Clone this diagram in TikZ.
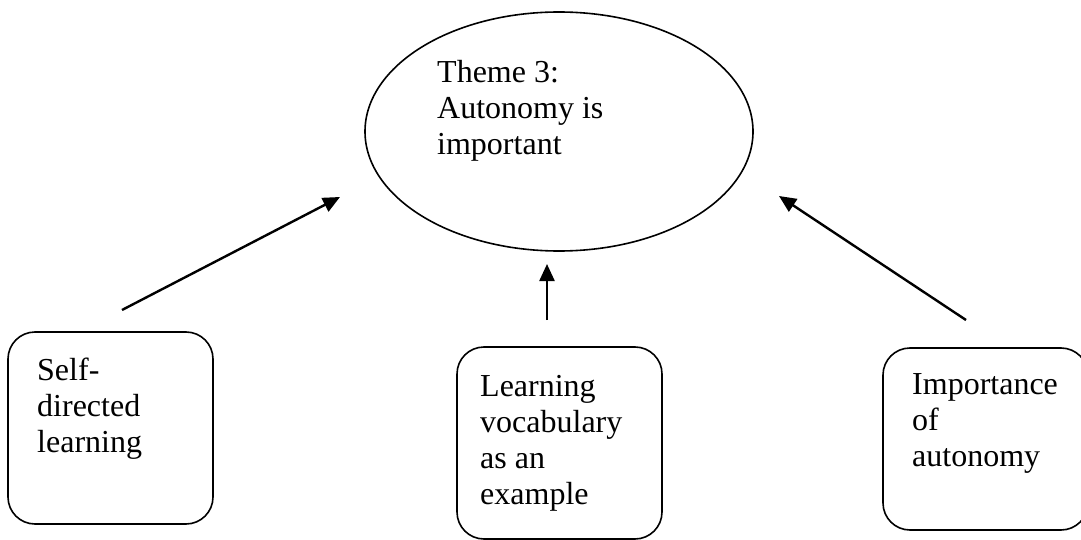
\documentclass[tikz,border=0pt]{standalone}
\usepackage{fontspec}
\setmainfont{Liberation Serif}
\usetikzlibrary{arrows.meta,shapes.geometric}
\begin{document}
\begin{tikzpicture}[x=1pt,y=-1pt,
  bubble/.style={draw,ellipse,line width=1.6pt,minimum width=388pt,minimum height=239pt,inner sep=0pt},
  card/.style={draw,rounded corners=27pt,line width=1.6pt,minimum width=205pt,inner sep=0pt},
  caption/.style={anchor=north west,align=left,inner sep=0pt,font=\fontsize{32}{36}\selectfont},
  link/.style={line width=2.4pt,-{Triangle[length=17pt,width=15pt]}}]
\useasboundingbox (0,0) rectangle (1081,540);

% central theme
\node[bubble] (theme) at (559,131.5) {};
\node[caption] (themetxt) at (437,60) {Theme 3:\\Autonomy is\\important};

% sub-theme cards
\node[card,minimum height=192pt] (self) at (110.5,428) {};
\node[caption] (selftxt) at (37,358) {Self-\\directed\\learning};

\node[card,minimum height=192pt] (vocab) at (559.5,443) {};
\node[caption] (vocabtxt) at (480,375) {Learning\\vocabulary\\as an\\example};

\node[card,minimum height=182pt] (auto) at (985.5,439) {};
\node[caption] (autotxt) at (912,373) {Importance\\of\\autonomy};

% free-standing arrows pointing at the theme
\coordinate (s1) at (122,310);  \coordinate (e1) at (340,197);
\coordinate (s2) at (547,320);  \coordinate (e2) at (547,264);
\coordinate (s3) at (966,320);  \coordinate (e3) at (779,196);
\draw[link] (s1) -- (e1);
\draw[link] (s2) -- (e2);
\draw[link] (s3) -- (e3);
\end{tikzpicture}
\end{document}
